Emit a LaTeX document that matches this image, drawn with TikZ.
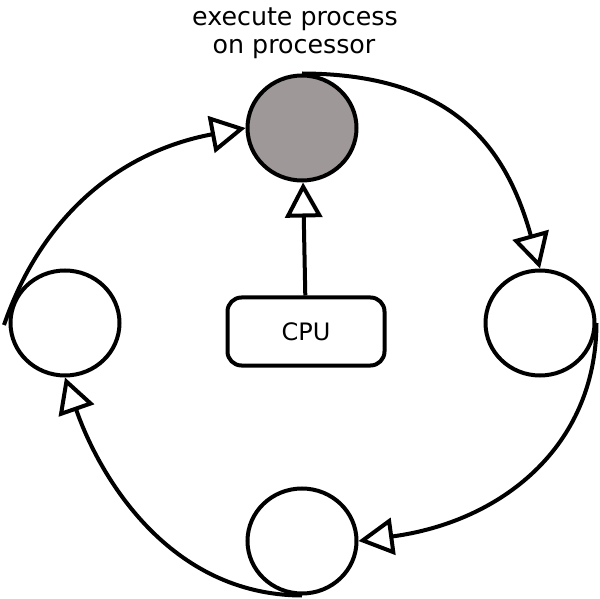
\documentclass[tikz,border=0pt]{standalone}
\usepackage{fontspec}
\setmainfont{DejaVu Sans}
\usetikzlibrary{arrows.meta,shapes.geometric}
\definecolor{procgray}{RGB}{158,152,152}
\begin{document}
\begin{tikzpicture}[x=1pt,y=1pt,
  state/.style={ellipse, draw, line width=4pt, minimum width=109pt, minimum height=105pt, inner sep=0pt},
  conn/.style={line width=4pt, -{Triangle[fill=white,length=35pt,width=37pt]}},
  lbl/.style={font=\fontsize{25.3}{30}\selectfont, inner sep=0pt, anchor=base},
  cpubox/.style={draw, line width=4pt, rounded corners=14pt, minimum width=157pt, minimum height=68pt, inner sep=0pt, font=\fontsize{24}{28}\selectfont}]
\useasboundingbox (0,0) rectangle (600,598);
\node[state, fill=procgray] (top) at (302,470) {};
\node[state] (right) at (540,275) {};
\node[state] (bottom) at (302,57) {};
\node[state] (left) at (65,275) {};
\node[cpubox] (cpu) at (306,266.5) {CPU};
\node[lbl] (l1) at (295,572) {execute process};
\node[lbl] (l2) at (294,544) {on processor};
\coordinate (start) at (4,273);
\draw[conn] (top.north) .. controls (450,524) and (505,455) .. (right.north);
\draw[conn] (right.east) .. controls (596,150) and (500,76) .. (bottom.east);
\draw[conn] (bottom.south) .. controls (170,3) and (100,120) .. (left.south);
\draw[conn] (start) .. controls (39,375) and (113,445) .. (top.west);
\draw[conn] (cpu) -- (top);
\end{tikzpicture}
\end{document}
